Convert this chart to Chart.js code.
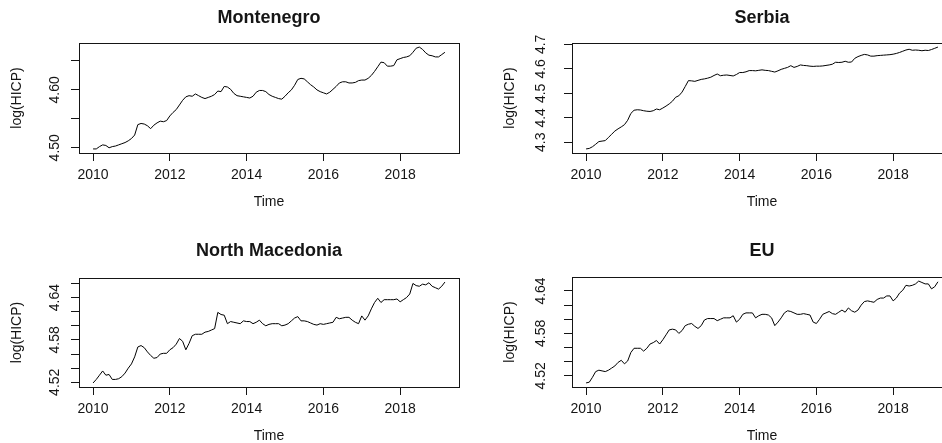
<!DOCTYPE html>
<html>
<head>
<meta charset="utf-8">
<title>log(HICP) panels</title>
<script src="https://cdn.jsdelivr.net/npm/chart.js@4.4.1/dist/chart.umd.min.js"></script>
<style>
  html, body { margin: 0; padding: 0; background: #fff; }
  body { position: relative; width: 942px; height: 443px; overflow: hidden; }
  canvas { position: absolute; }
</style>
</head>
<body>
<canvas id="montenegro" width="471" height="221" style="left:0;top:0"></canvas>
<canvas id="serbia" width="490" height="221" style="left:471px;top:0"></canvas>
<canvas id="macedonia" width="471" height="222" style="left:0;top:221px"></canvas>
<canvas id="eu" width="490" height="222" style="left:471px;top:221px"></canvas>
<script>
// Monthly series, Jan 2010 - Mar 2019
const firstYear = 2010;
const monthCount = 111;
const timeIndex = Array.from({ length: monthCount }, (_, i) => firstYear + i / 12);

const xTicks = [2010, 2012, 2014, 2016, 2018];
const xTickLabels = ["2010", "2012", "2014", "2016", "2018"];

const montenegro = [
  4.498, 4.498, 4.502, 4.505, 4.504, 4.500, 4.502, 4.503, 4.505, 4.507, 4.509, 4.512,
  4.516, 4.522, 4.540, 4.542, 4.541, 4.538, 4.533, 4.539, 4.543, 4.546, 4.545, 4.547,
  4.555, 4.561, 4.566, 4.574, 4.582, 4.588, 4.590, 4.589, 4.593, 4.590, 4.587, 4.585,
  4.587, 4.589, 4.592, 4.598, 4.597, 4.606, 4.605, 4.601, 4.594, 4.590, 4.589, 4.588,
  4.587, 4.586, 4.589, 4.596, 4.599, 4.599, 4.597, 4.592, 4.589, 4.587, 4.585, 4.584,
  4.589, 4.595, 4.600, 4.608, 4.618, 4.620, 4.619, 4.614, 4.609, 4.605, 4.600, 4.597,
  4.595, 4.593, 4.596, 4.601, 4.606, 4.612, 4.614, 4.614, 4.612, 4.612, 4.613, 4.616,
  4.617, 4.617, 4.620, 4.625, 4.632, 4.640, 4.648, 4.647, 4.641, 4.641, 4.642, 4.652,
  4.654, 4.656, 4.657, 4.659, 4.665, 4.672, 4.674, 4.670, 4.664, 4.660, 4.659, 4.657,
  4.657, 4.661, 4.665
];

const serbia = [
  4.273, 4.275, 4.282, 4.292, 4.303, 4.305, 4.307, 4.320, 4.333, 4.346, 4.355, 4.363,
  4.372, 4.390, 4.418, 4.431, 4.433, 4.432, 4.429, 4.427, 4.426, 4.429, 4.436, 4.433,
  4.440, 4.448, 4.457, 4.468, 4.484, 4.490, 4.505, 4.528, 4.552, 4.551, 4.549, 4.553,
  4.557, 4.559, 4.562, 4.566, 4.573, 4.579, 4.572, 4.574, 4.575, 4.573, 4.571, 4.577,
  4.585, 4.585, 4.588, 4.593, 4.593, 4.592, 4.594, 4.596, 4.594, 4.593, 4.590, 4.587,
  4.592, 4.598, 4.602, 4.606, 4.613, 4.606, 4.610, 4.616, 4.614, 4.613, 4.611, 4.610,
  4.611, 4.611, 4.612, 4.614, 4.616, 4.619, 4.627, 4.626, 4.627, 4.631, 4.627, 4.628,
  4.643, 4.650, 4.655, 4.659, 4.657, 4.652, 4.652, 4.654, 4.655, 4.656, 4.657, 4.658,
  4.660, 4.663, 4.667, 4.672, 4.677, 4.680, 4.676, 4.677, 4.676, 4.674, 4.676, 4.675,
  4.679, 4.684, 4.689
];

const northMacedonia = [
  4.519, 4.524, 4.530, 4.536, 4.530, 4.531, 4.524, 4.524, 4.525, 4.528, 4.533, 4.540,
  4.546, 4.556, 4.570, 4.572, 4.569, 4.563, 4.558, 4.554, 4.555, 4.560, 4.561, 4.561,
  4.566, 4.569, 4.574, 4.582, 4.578, 4.566, 4.575, 4.586, 4.588, 4.588, 4.588, 4.591,
  4.592, 4.594, 4.596, 4.619, 4.616, 4.615, 4.603, 4.606, 4.605, 4.604, 4.603, 4.607,
  4.606, 4.606, 4.603, 4.605, 4.608, 4.603, 4.600, 4.602, 4.603, 4.603, 4.603, 4.600,
  4.601, 4.603, 4.607, 4.611, 4.613, 4.607, 4.607, 4.606, 4.604, 4.602, 4.601, 4.603,
  4.602, 4.603, 4.604, 4.605, 4.612, 4.610, 4.611, 4.612, 4.612, 4.608, 4.605, 4.603,
  4.614, 4.608, 4.614, 4.624, 4.633, 4.639, 4.633, 4.637, 4.637, 4.637, 4.637, 4.638,
  4.634, 4.637, 4.640, 4.645, 4.660, 4.657, 4.656, 4.659, 4.658, 4.661, 4.656, 4.654,
  4.652, 4.656, 4.662
];

const eu = [
  4.510, 4.511, 4.518, 4.526, 4.528, 4.527, 4.526, 4.528, 4.531, 4.534, 4.539, 4.542,
  4.537, 4.541, 4.553, 4.559, 4.559, 4.559, 4.555, 4.559, 4.565, 4.567, 4.570, 4.565,
  4.571, 4.578, 4.585, 4.586, 4.585, 4.580, 4.584, 4.591, 4.593, 4.594, 4.590, 4.587,
  4.591, 4.599, 4.601, 4.601, 4.601, 4.598, 4.600, 4.602, 4.602, 4.602, 4.605, 4.596,
  4.600, 4.607, 4.609, 4.609, 4.609, 4.602, 4.605, 4.607, 4.607, 4.606, 4.602, 4.591,
  4.596, 4.602, 4.609, 4.612, 4.611, 4.609, 4.607, 4.607, 4.608, 4.607, 4.606, 4.596,
  4.594, 4.600, 4.607, 4.609, 4.611, 4.608, 4.607, 4.610, 4.613, 4.610, 4.616, 4.612,
  4.610, 4.613, 4.620, 4.625, 4.626, 4.625, 4.624, 4.628, 4.630, 4.630, 4.633, 4.633,
  4.626, 4.630, 4.637, 4.641, 4.648, 4.647, 4.648, 4.650, 4.654, 4.652, 4.650, 4.650,
  4.643, 4.646, 4.653
];

const montenegroTicks = [4.50, 4.55, 4.60, 4.65];
const montenegroTickLabels = ["4.50", "", "4.60", ""];
const serbiaTicks = [4.3, 4.4, 4.5, 4.6, 4.7];
const serbiaTickLabels = ["4.3", "4.4", "4.5", "4.6", "4.7"];
const macedoniaTicks = [4.52, 4.54, 4.56, 4.58, 4.60, 4.62, 4.64, 4.66];
const macedoniaTickLabels = ["4.52", "", "", "4.58", "", "", "4.64", ""];
const euTicks = [4.52, 4.54, 4.56, 4.58, 4.60, 4.62, 4.64];
const euTickLabels = ["4.52", "", "", "4.58", "", "", "4.64"];

const FONT = "'Liberation Sans', Arial, Helvetica, sans-serif";
const INK = "#151515";

// R pads the data range by 4% on each side
function rRange(values) {
  const lo = Math.min(...values);
  const hi = Math.max(...values);
  const pad = (hi - lo) * 0.04;
  return { min: lo - pad, max: hi + pad };
}

// Draws the R base-graphics decorations: box, titles, rotated y labels
const rStylePlugin = {
  id: "rStyle",
  afterDraw(chart, args, opts) {
    const { ctx, chartArea: a, scales } = chart;
    const cx = (a.left + a.right) / 2;
    ctx.save();
    ctx.fillStyle = INK;
    ctx.strokeStyle = INK;
    ctx.lineWidth = 1;
    ctx.strokeRect(a.left + 0.5, a.top + 0.5, a.right - a.left, a.bottom - a.top);

    // main title
    ctx.font = "bold 18px " + FONT;
    ctx.textAlign = "center";
    ctx.textBaseline = "alphabetic";
    ctx.fillText(opts.title, cx, opts.titleY);

    // x tick labels and axis title
    ctx.font = "14px " + FONT;
    xTicks.forEach((v, i) => {
      ctx.fillText(xTickLabels[i], scales.x.getPixelForValue(v), a.bottom + 25.5);
    });
    ctx.fillText("Time", cx, a.bottom + 52.5);

    // y tick labels, parallel to the axis
    opts.yTicks.forEach((v, i) => {
      if (!opts.yLabels[i]) return;
      ctx.save();
      ctx.translate(a.left - opts.labelGap, scales.y.getPixelForValue(v));
      ctx.rotate(-Math.PI / 2);
      ctx.fillText(opts.yLabels[i], 0, 0);
      ctx.restore();
    });

    ctx.save();
    ctx.translate(a.left - 58, (a.top + a.bottom) / 2);
    ctx.rotate(-Math.PI / 2);
    ctx.fillText("log(HICP)", 0, 0);
    ctx.restore();
    ctx.restore();
  },
};

const PANELS = [
  { id: "montenegro", title: "Montenegro", values: montenegro, yTicks: montenegroTicks, yLabels: montenegroTickLabels,
    left: 79, right: 12, top: 43, bottom: 68, titleY: 23, labelGap: 20 },
  { id: "serbia", title: "Serbia", values: serbia, yTicks: serbiaTicks, yLabels: serbiaTickLabels,
    left: 101, right: 9, top: 43, bottom: 68, titleY: 23, labelGap: 27 },
  { id: "macedonia", title: "North Macedonia", values: northMacedonia, yTicks: macedoniaTicks, yLabels: macedoniaTickLabels,
    left: 79, right: 12, top: 57, bottom: 56, titleY: 35, labelGap: 20 },
  { id: "eu", title: "EU", values: eu, yTicks: euTicks, yLabels: euTickLabels,
    left: 101, right: 9, top: 56, bottom: 56, titleY: 35, labelGap: 27 },
];

const tickGrid = {
  display: true,
  drawOnChartArea: false,
  drawTicks: true,
  tickLength: 8,
  color: INK,
  lineWidth: 1,
};

PANELS.forEach((p) => {
  const xr = rRange(timeIndex);
  const yr = rRange(p.values);
  new Chart(document.getElementById(p.id), {
    type: "line",
    data: {
      datasets: [{
        data: timeIndex.map((t, i) => ({ x: t, y: p.values[i] })),
        borderColor: "#000",
        borderWidth: 1,
        pointRadius: 0,
        tension: 0,
        fill: false,
      }],
    },
    options: {
      responsive: false,
      animation: false,
      devicePixelRatio: 1,
      layout: { padding: { left: 0, right: p.right, top: p.top, bottom: 0 } },
      plugins: {
        legend: { display: false },
        tooltip: { enabled: false },
        rStyle: { title: p.title, titleY: p.titleY, yTicks: p.yTicks, yLabels: p.yLabels, labelGap: p.labelGap },
      },
      scales: {
        x: {
          type: "linear",
          min: xr.min,
          max: xr.max,
          grid: tickGrid,
          border: { display: false },
          ticks: { display: false },
          afterBuildTicks: (scale) => { scale.ticks = xTicks.map((v) => ({ value: v })); },
          afterFit: (scale) => { scale.height = p.bottom; },
        },
        y: {
          min: yr.min,
          max: yr.max,
          grid: tickGrid,
          border: { display: false },
          ticks: { display: false },
          afterBuildTicks: (scale) => { scale.ticks = p.yTicks.map((v) => ({ value: v })); },
          afterFit: (scale) => { scale.width = p.left; },
        },
      },
    },
    plugins: [rStylePlugin],
  });
});
</script>
</body>
</html>
